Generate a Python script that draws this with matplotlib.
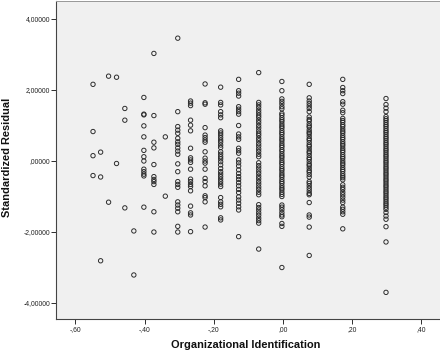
import matplotlib
matplotlib.use("Agg")
import matplotlib.pyplot as plt
from matplotlib.ticker import FixedLocator, FixedFormatter

plt.rcParams['font.family'] = ['Liberation Sans', 'DejaVu Sans']

# Organizational Identification (centered) values of the discrete columns
col_x = [-0.549, -0.527, -0.504, -0.481, -0.457, -0.431, -0.402, -0.373, -0.340,
         -0.304, -0.267, -0.225, -0.180, -0.128, -0.070, -0.003, 0.076, 0.173, 0.298]

# Standardized residuals per column
col_y = [
    [2.16, 0.83, 0.15, -0.41],
    [0.25, -0.45, -2.81],
    [2.39, -1.16],
    [2.36, -0.07],
    [1.48, 1.15, -1.32],
    [-1.97, -3.21],
    [1.79, 1.32, 1.30, 0.99, 0.68, 0.30, 0.12, 0.00, -0.23, -0.30, -0.37, -0.42, -1.30],
    [3.03, 1.28, 0.53, 0.37, -0.10, -0.44, -0.52, -0.58, -0.66, -1.43, -2.00],
    [0.68, -0.99],
    [3.46, 1.39, 0.97, 0.87, 0.78, 0.64, 0.54, 0.47, 0.37, 0.28, 0.19, -0.08, -0.30,
     -0.58, -0.66, -0.74, -1.15, -1.24, -1.33, -1.43, -1.84, -2.00],
    [1.69, 1.63, 1.56, 1.15, 1.01, 0.85, 0.36, 0.09, 0.03, -0.04, -0.23, -0.51, -0.58,
     -0.66, -0.72, -0.84, -1.27, -1.46, -1.52, -1.99],
    [2.17, 1.64, 1.60, 0.94, 0.73, 0.66, 0.59, 0.53, 0.26, 0.08, 0.00, -0.06, -0.23,
     -0.49, -0.58, -0.70, -0.98, -1.03, -1.15, -1.86],
    [2.08, 1.65, 1.58, 1.39, 1.30, 1.22, 0.85, 0.79, 0.73, 0.66, 0.59, 0.53, 0.45, 0.38,
     0.26, 0.19, 0.12, 0.06, -0.02, -0.11, -0.21, -0.30, -0.37, -0.44, -0.51, -0.58,
     -0.65, -0.72, -1.03, -1.15, -1.22, -1.29, -1.60, -1.66],
    [2.30, 1.98, 1.91, 1.83, 1.53, 1.46, 1.39, 1.32, 1.00, 0.76, 0.68, 0.61, 0.36, 0.29,
     0.22, 0.03, -0.05, -0.14, -0.25, -0.35, -0.44, -0.52, -0.61, -0.70, -0.80, -0.89,
     -1.01, -1.10, -1.19, -1.29, -1.38, -2.13],
    [2.49, 1.65, 1.58, 1.51, 1.43, 1.36, 1.29, 1.23, 1.15, 1.08, 1.00, 0.93, 0.85, 0.78,
     0.72, 0.64, 0.57, 0.49, 0.42, 0.34, 0.27, 0.19, 0.12, -0.05, -0.13, -0.20, -0.28,
     -0.35, -0.43, -0.50, -0.58, -0.65, -0.73, -0.80, -0.88, -0.95, -1.23, -1.31, -1.38,
     -1.46, -1.53, -1.61, -1.68, -1.75, -2.48],
    [2.24, 1.98, 1.75, 1.68, 1.61, 1.53, 1.47, 1.34, 1.29, 1.22, 1.16, 1.11, 1.04, 0.98,
     0.93, 0.86, 0.80, 0.75, 0.68, 0.62, 0.57, 0.50, 0.44, 0.39, 0.32, 0.27, 0.20, 0.14,
     0.09, 0.02, -0.04, -0.09, -0.16, -0.22, -0.27, -0.34, -0.40, -0.45, -0.52, -0.58,
     -0.63, -0.70, -0.76, -0.81, -0.88, -0.94, -1.00, -1.24, -1.30, -1.37, -1.45, -1.52,
     -1.57, -1.76, -1.84, -3.00],
    [2.16, 1.78, 1.69, 1.62, 1.55, 1.48, 1.39, 1.24, 1.17, 1.13, 1.05, 0.99, 0.95, 0.87,
     0.81, 0.77, 0.70, 0.63, 0.59, 0.52, 0.45, 0.41, 0.34, 0.27, 0.23, 0.16, 0.09, 0.05,
     -0.02, -0.09, -0.13, -0.20, -0.27, -0.31, -0.38, -0.45, -0.58, -0.63, -0.70, -0.77,
     -0.84, -0.91, -0.95, -1.17, -1.52, -1.58, -1.86, -2.66],
    [2.30, 2.07, 1.98, 1.90, 1.67, 1.60, 1.43, 1.36, 1.20, 1.14, 1.09, 1.02, 0.97, 0.90,
     0.84, 0.79, 0.72, 0.66, 0.61, 0.54, 0.48, 0.43, 0.36, 0.30, 0.25, 0.18, 0.12, 0.07,
     0.00, -0.06, -0.11, -0.18, -0.24, -0.29, -0.36, -0.42, -0.47, -0.53, -0.67, -0.74,
     -0.80, -0.88, -0.95, -1.02, -1.10, -1.17, -1.30, -1.36, -1.43, -1.50, -1.91],
    [1.76, 1.59, 1.49, 1.39, 1.25, 1.19, 1.14, 1.08, 1.02, 0.97, 0.91, 0.85, 0.80, 0.74,
     0.68, 0.63, 0.57, 0.51, 0.46, 0.40, 0.34, 0.29, 0.23, 0.17, 0.12, 0.06, 0.00, -0.05,
     -0.11, -0.17, -0.22, -0.28, -0.34, -0.39, -0.45, -0.51, -0.56, -0.62, -0.68, -0.73,
     -0.79, -0.85, -0.90, -0.96, -1.02, -1.07, -1.13, -1.19, -1.24, -1.30, -1.36, -1.45,
     -1.55, -1.64, -1.85, -2.28, -3.70],
]

x_ticks = [-0.6, -0.4, -0.2, 0.0, 0.2, 0.4]
x_tick_labels = ["-,60", "-,40", "-,20", ",00", ",20", ",40"]
y_ticks = [-4, -2, 0, 2, 4]
y_tick_labels = ["-4,00000", "-2,00000", ",00000", "2,00000", "4,00000"]
x_title = "Organizational Identification"
y_title = "Standardized Residual"

W, H = 440, 352
fig = plt.figure(figsize=(W / 72, H / 72), dpi=72)
fig.patch.set_facecolor("white")
ax = fig.add_axes([56 / W, (H - 319) / H, (441 - 56) / W, (319 - 1) / H])
ax.set_facecolor("#f0f0f0")

xs, ys = [], []
for cx, cy in zip(col_x, col_y):
    xs.extend([cx] * len(cy))
    ys.extend(cy)
ax.scatter(xs, ys, s=19, facecolors="none", edgecolors="#2a2a2a", linewidths=0.95, zorder=3)

ax.set_xlim(-0.656, 0.457)
ax.set_ylim(-4.45, 4.507)

ax.xaxis.set_major_locator(FixedLocator(x_ticks))
ax.xaxis.set_major_formatter(FixedFormatter(x_tick_labels))
ax.yaxis.set_major_locator(FixedLocator(y_ticks))
ax.yaxis.set_major_formatter(FixedFormatter(y_tick_labels))
ax.tick_params(axis="both", direction="out", length=5, width=1, color="#333333",
               labelsize=6.8, labelcolor="#222222")
ax.tick_params(axis="x", pad=2)
ax.tick_params(axis="y", pad=1)

for side in ["left", "bottom"]:
    ax.spines[side].set_color("#444444")
    ax.spines[side].set_linewidth(1.1)
ax.spines["top"].set_color("#9a9a9a")
ax.spines["top"].set_linewidth(1)
ax.spines["right"].set_visible(False)

fig.text(245.5 / W, 1 - 345.5 / H, x_title, ha="center", va="center",
         fontsize=11, fontweight="bold", color="#111111")
fig.text(7.5 / W, 1 - 157.5 / H, y_title, ha="center", va="center", rotation=90,
         fontsize=11, fontweight="bold", color="#111111")

fig.savefig("out.png", dpi=72, facecolor="white")
